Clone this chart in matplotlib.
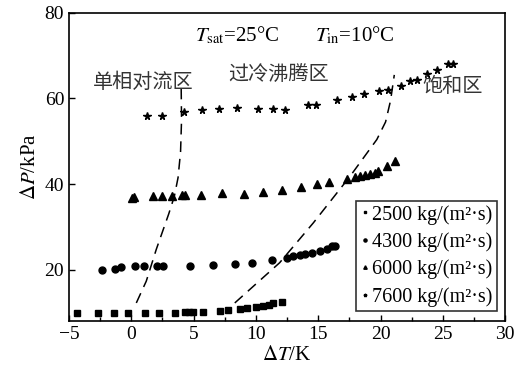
import matplotlib
matplotlib.use("Agg")
import matplotlib.pyplot as plt
import numpy as np

plt.rcParams['font.family'] = ['Liberation Serif', 'DejaVu Serif']
plt.rcParams['mathtext.fontset'] = 'stix'

# 2500 kg/(m2 s)
g2500_x = [-4.33, -2.7, -1.36, -0.24, 1.1, 2.25, 3.5, 4.3, 4.6, 4.95, 5.78,
           7.12, 7.79, 8.72, 9.31, 10.0, 10.6, 11.08, 11.4, 12.07]
g2500_y = [9.9, 9.9, 9.9, 9.9, 9.9, 9.9, 9.9, 10.0, 10.0, 10.0, 10.1,
           10.4, 10.6, 10.9, 11.05, 11.2, 11.6, 11.8, 12.1, 12.4]

# 4300 kg/(m2 s)
g4300_x = [-2.38, -1.31, -0.83, 0.3, 1.04, 2.04, 2.57, 4.71, 6.53, 8.32, 9.66,
           11.27, 12.47, 13.0, 13.54, 13.94, 14.48, 15.14, 15.68, 16.08, 16.35]
g4300_y = [20.0, 20.2, 20.5, 20.9, 20.9, 20.9, 20.9, 20.9, 21.0, 21.3, 21.6,
           22.2, 22.7, 23.1, 23.3, 23.7, 23.9, 24.4, 24.9, 25.4, 25.6]

# 6000 kg/(m2 s)
g6000_x = [0.03, 0.22, 1.77, 2.44, 3.24, 4.04, 4.31, 5.6, 7.26, 9.05, 10.55,
           12.07, 13.6, 14.93, 15.87, 17.29, 17.96, 18.36, 18.76, 19.16, 19.57,
           19.83, 20.5, 21.16]
g6000_y = [36.8, 37.0, 37.1, 37.1, 37.2, 37.5, 37.5, 37.5, 37.8, 37.7, 38.1,
           38.5, 39.3, 39.9, 40.4, 41.2, 41.6, 41.8, 42.0, 42.3, 42.6,
           43.0, 44.2, 45.3]

# 7600 kg/(m2 s)
g7600_x = [1.24, 2.44, 4.2, 5.65, 7.07, 8.5, 10.2, 11.35, 12.34, 14.2, 14.8,
           16.53, 17.69, 18.7, 19.88, 20.63, 21.62, 22.37, 22.9, 23.76, 24.5,
           25.44, 25.8]
g7600_y = [56.0, 56.0, 56.8, 57.4, 57.6, 57.8, 57.6, 57.6, 57.4, 58.4, 58.4,
           59.7, 60.3, 61.0, 61.8, 61.9, 62.8, 64.0, 64.4, 65.6, 66.6,
           68.1, 68.1]

# region boundaries (dashed)
b1_x = [0.4, 1.2, 2.0, 3.0, 3.45, 3.75, 3.95, 4.03, 4.0]
b1_y = [12.2, 17.3, 24.7, 33.0, 37.1, 41.5, 47.5, 55.0, 62.5]
b2_x = [8.3, 11.9, 14.6, 17.55, 19.7, 20.4, 20.8, 21.1]
b2_y = [12.2, 21.6, 30.9, 41.8, 50.4, 54.5, 59.5, 65.5]

labels = ["2500 kg/(m²·s)", "4300 kg/(m²·s)", "6000 kg/(m²·s)", "7600 kg/(m²·s)"]

fig = plt.figure(figsize=(5.15, 3.78), dpi=100)
ax = fig.add_axes([0.134, 0.151, 0.847, 0.815])

ax.plot(g2500_x, g2500_y, ls="none", marker="s", ms=4.3, color="black", label=labels[0])
ax.plot(g4300_x, g4300_y, ls="none", marker="o", ms=5, color="black", label=labels[1])
ax.plot(g6000_x, g6000_y, ls="none", marker="^", ms=5.5, color="black", label=labels[2])
ax.plot(g7600_x, g7600_y, ls="none", marker="*", ms=5.5, color="black", label=labels[3])

ax.plot(b1_x, b1_y, color="black", lw=1.1, dashes=(7, 4.5))
ax.plot(b2_x, b2_y, color="black", lw=1.1, dashes=(7, 4.5))

ax.set_xlim(-5, 30)
ax.set_ylim(8, 80)
ax.set_xticks(np.arange(-5, 31, 5))
ax.set_xticks(np.arange(-2.5, 30, 5), minor=True)
ax.set_yticks([20, 40, 60, 80])
ax.tick_params(which="both", direction="in", top=False, right=False,
               labelsize=14, width=1)
ax.tick_params(which="major", length=4)
ax.tick_params(which="minor", length=3)
for s in ax.spines.values():
    s.set_linewidth(1.2)

ax.set_xlabel(r"$\Delta T$/K", fontsize=15, labelpad=2)
ax.set_ylabel(r"$\Delta P$/kPa", fontsize=15, labelpad=3)

ax.text(8.5, 74.8, r"$T_{\rm sat}$=25°C", fontsize=15, ha="center", va="center")
ax.text(17.9, 74.8, r"$T_{\rm in}$=10°C", fontsize=15, ha="center", va="center")

cjk = ['Noto Sans CJK SC', 'DejaVu Sans']
ax.text(0.95, 63.7, "单相对流区", fontsize=14.5, family=cjk, ha="center", va="center", color="#333333")
ax.text(11.8, 65.3, "过冷沸腾区", fontsize=14.5, family=cjk, ha="center", va="center", color="#333333")
ax.text(25.8, 62.8, "饱和区", fontsize=14.5, family=cjk, ha="center", va="center", color="#333333")

leg = ax.legend(loc="lower right", bbox_to_anchor=(0.99, 0.02), fontsize=14.5,
                markerscale=0.45, handlelength=0.5, handletextpad=0.1,
                borderpad=0.2, labelspacing=0.38, borderaxespad=0.2,
                frameon=True, fancybox=False, edgecolor="black")
leg.get_frame().set_linewidth(1.2)

fig.savefig("out.png", dpi=100)
